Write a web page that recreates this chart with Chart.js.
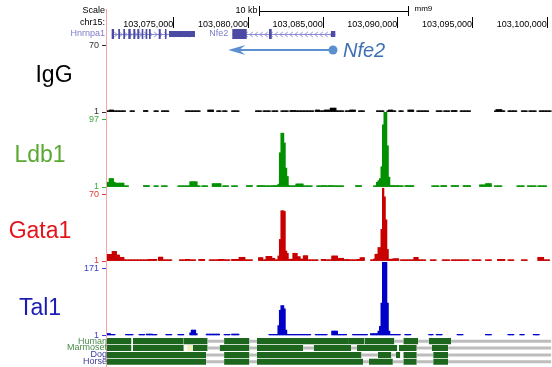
<!DOCTYPE html>
<html>
<head>
<meta charset="utf-8">
<script src="https://cdn.jsdelivr.net/npm/chart.js@4.4.1/dist/chart.umd.min.js"></script>
<style>
  html, body { margin: 0; padding: 0; background: #fff; }
  #wrap { position: relative; width: 552px; height: 367px; }
</style>
</head>
<body>
<div id="wrap"><canvas id="c" width="552" height="367"></canvas></div>
<script>
// view window on chr15 (mm9)
const viewStart = 103070494;
const viewEnd = 103100355;
const binStart = 103070500;
const binSize = 100;
const binCount = 298;
const posTicks = [103075000, 103080000, 103085000, 103090000, 103095000, 103100000];
const scaleBar = [103080737, 103090737];

const trackNames = ['IgG', 'Ldb1', 'Gata1', 'Tal1'];
const trackTop = [70, 97, 70, 171];

// signal tracks: [first bin, last bin, value]
const iggSegs = [[0,12,1.5],[2,4,3],[16,18,1.5],[25,27,2.5],[32,34,1.5],[37,41,1.5],[53,62,1.5],[68,71,3],[74,76,1.5],[78,80,1.5],[84,88,2],[100,103,1.5],[105,109,1.5],[111,114,1.5],[117,121,1.5],[123,126,2.5],[127,132,1.5],[133,138,1.5],[140,142,3],[143,145,1.5],[146,149,3],[150,153,5],[154,158,1.5],[160,162,1.5],[163,166,3],[169,172,1.5],[181,185,1.5],[188,193,1.5],[189,191,3],[196,198,1.5],[202,205,3],[208,211,1.5],[212,215,1.5],[221,224,1.5],[226,229,1.5],[231,234,2.5],[237,243,1.5],[260,266,1.5],[261,264,3.5],[269,274,1.5],[278,281,1.5],[283,287,1.5],[290,297,1.5]];
const ldb1Segs = [[0,1,7.7],[2,4,13],[5,5,8],[6,11,6.5],[12,14,1.5],[25,28,3],[32,34,1.5],[37,40,1.5],[48,55,1.5],[56,60,8.5],[61,62,1.5],[64,67,1.5],[71,76,5.8],[78,81,1.5],[84,87,1.5],[94,97,3],[101,105,3],[106,110,1.5],[111,114,3],[115,115,5],[116,116,50],[117,118,78],[119,119,64],[120,120,28],[121,121,16],[122,122,3],[123,126,1.5],[127,131,5.3],[132,137,1.5],[141,143,2],[144,146,3],[147,148,1.5],[149,151,3],[152,158,2],[167,170,3],[179,180,2],[181,181,7.7],[182,182,10],[183,183,13],[184,184,30],[185,185,90],[186,187,108],[188,188,60],[189,189,15],[190,195,3],[196,198,1.5],[200,205,3],[218,222,1.5],[224,227,3],[231,235,3],[239,243,3],[250,253,4],[254,257,5.8],[260,264,1.5],[275,279,2],[282,287,1.5],[289,294,1.5]];
const gata1Segs = [[0,3,7.9],[4,6,11],[7,8,7.2],[9,11,4.8],[12,16,1.7],[17,22,1.5],[23,25,2],[26,27,1.5],[28,33,2.7],[35,37,5],[38,43,2],[49,52,1.5],[53,55,2.7],[56,59,1.5],[62,65,2.7],[69,71,1.5],[72,74,2],[75,78,2.7],[79,82,1.5],[84,88,2.7],[89,92,4.8],[93,97,1.5],[102,104,4.5],[105,106,1.5],[107,110,5.8],[111,112,3.8],[113,114,1.5],[115,115,6.2],[116,116,23.5],[117,118,53.5],[119,119,52.8],[120,120,11.4],[121,121,9],[122,124,2.8],[125,127,9],[128,129,5.5],[130,131,3],[132,134,6.5],[135,141,2],[144,146,2.7],[147,150,1.5],[151,154,6.2],[155,158,3.8],[159,162,2.5],[163,167,1.5],[168,169,2.7],[170,172,4.5],[177,178,1.5],[179,179,3],[180,181,8],[182,183,15],[184,184,34],[185,185,77],[186,186,68],[187,187,44],[188,188,13],[189,191,2.8],[192,195,3.4],[197,202,1.5],[203,205,2],[206,208,4.8],[209,210,1.5],[211,213,2],[217,220,1.5],[225,229,2],[231,242,1.5],[245,247,1.5],[248,250,2],[254,257,2],[262,266,2.7],[269,272,1.5],[278,281,2],[289,292,4.8],[293,296,2]];
const tal1Segs = [[0,2,6],[3,5,1.5],[13,17,1.5],[22,25,1.5],[27,30,4.4],[31,33,1.5],[40,43,1.5],[48,51,1.5],[56,56,7.8],[57,59,14.5],[60,60,6],[67,75,4.4],[79,82,1.5],[84,88,4.4],[109,114,1.8],[115,115,26],[116,116,65],[117,118,77],[119,119,69],[120,120,14.5],[121,121,3.5],[122,130,3.5],[131,136,1.5],[140,143,1.5],[144,147,1.5],[151,154,12],[155,156,1.5],[157,160,3.5],[165,174,1.5],[177,181,6],[182,182,12],[183,183,24],[184,184,84],[185,187,188],[188,188,84],[189,189,12],[190,196,3.5],[200,203,3.5],[216,218,1.5],[221,224,2.7],[235,238,2.7],[254,257,2.7],[269,272,1.5],[277,279,1.5],[286,289,1.5]];

// conservation rows: aligned blocks and unalignable gaps, [first bin, last bin]
const consSpecies = ['Human', 'Marmoset', 'Dog', 'Horse'];
const humanCons = [[0,16],[18,51],[52,67],[79,95],[101,161],[162,172],[173,192],[199,208],[216,230]];
const humanGap = [[68,78],[96,100],[193,198],[209,215],[231,297]];
const marmosetCons = [[0,16],[18,51],[58,67],[76,95],[101,131],[139,163],[168,194],[196,207],[218,228]];
const marmosetGap = [[68,75],[96,100],[132,138],[164,167],[208,217],[229,297]];
const marmosetMissing = [[54,57]];
const dogCons = [[0,66],[79,95],[101,170],[182,190],[194,196],[199,207],[219,228]];
const dogGap = [[67,78],[96,100],[171,181],[191,193],[208,218],[229,297]];
const horseCons = [[0,66],[79,95],[101,171],[176,191],[199,207],[219,228]];
const horseGap = [[67,78],[96,100],[172,175],[192,198],[208,218],[229,297]];

// gene models: [start, end, coding]
const hnrnpa1Tx = [103070876, 103076452];
const hnrnpa1Exons = [[103070876,103071030,1],[103071317,103071431,1],[103071652,103071766,1],[103071987,103072148,1],[103072322,103072456,1],[103072590,103072724,1],[103072884,103072991,1],[103073152,103073259,1],[103073373,103073487,1],[103074022,103074156,1],[103074444,103074531,1],[103074712,103076452,0]];
const nfe2Tx = [103078950, 103085846];
const nfe2Exons = [[103078950,103079914,1],[103081407,103081588,1],[103085558,103085846,0]];
const nfe2Arrow = [103085692, 103078682];

const FONT = '"Liberation Sans", Arial, sans-serif';
Chart.defaults.font.family = FONT;
Chart.defaults.font.size = 9;

const signalColors = ['#000000', '#009000', '#c80000', '#0000c8'];
const labelColors = ['#000000', '#5aa832', '#e5141b', '#1c1cb4'];
const tickColors = ['#333333', '#3caa3c', '#e03c3c', '#3c3cd0'];
const axisIds = ['yIgG', 'yLdb1', 'yGata1', 'yTal1'];
const axisMax = [76.27, 108.46, 78.36, 191.45];
const axisPx = [72, 75, 74, 74.5];

function binBars(segs) {
  const v = new Array(binCount).fill(null);
  segs.forEach(([a, b, val]) => { for (let i = a; i <= b; i++) v[i] = val; });
  const pts = [];
  v.forEach((val, i) => {
    if (val !== null) pts.push({ x: binStart + (i + 0.5) * binSize, y: val });
  });
  return pts;
}

function blockPoints(segs, y) {
  const pts = [];
  segs.forEach(([a, b]) => {
    pts.push({ x: binStart + a * binSize, y: y });
    pts.push({ x: binStart + (b + 1) * binSize, y: y });
    pts.push({ x: binStart + (b + 1) * binSize, y: null });
  });
  return pts;
}

const datasets = [];
[iggSegs, ldb1Segs, gata1Segs, tal1Segs].forEach((segs, k) => {
  datasets.push({
    type: 'bar', data: binBars(segs), yAxisID: axisIds[k], base: 1,
    grouped: false, barPercentage: 1, categoryPercentage: 1,
    backgroundColor: signalColors[k], borderWidth: 0,
    minBarLength: 1.2, inflateAmount: 0.4
  });
});

const consGreen = '#1c661e';
const consBlocks = [humanCons, marmosetCons, dogCons, horseCons];
const consGaps = [humanGap, marmosetGap, dogGap, horseGap];
consBlocks.forEach((segs, r) => {
  datasets.push({
    data: blockPoints(segs, r + 0.38), yAxisID: 'yCons', fill: { value: r + 1.25 },
    borderWidth: 0, borderColor: consGreen, backgroundColor: consGreen, pointRadius: 0
  });
  datasets.push({
    data: blockPoints(consGaps[r], r + 0.82), yAxisID: 'yCons', fill: false,
    borderWidth: 3, borderColor: '#bdbdbd', pointRadius: 0
  });
});
datasets.push({
  data: blockPoints(marmosetMissing, 1.38), yAxisID: 'yCons', fill: { value: 2.25 },
  borderWidth: 0, borderColor: '#f2f0bc', backgroundColor: '#f2f0bc', pointRadius: 0
});

const scales = {
  x: {
    type: 'linear', position: 'top', min: viewStart, max: viewEnd, offset: false,
    grid: { display: false, drawTicks: false, offset: false }, border: { display: false },
    ticks: { align: 'end', padding: 10, color: '#000', font: { size: 9 },
      callback: v => v.toLocaleString('en-US') },
    afterBuildTicks: s => { s.ticks = posTicks.map(v => ({ value: v })); },
    afterFit: s => { s.height = 40; s.paddingLeft = 0; s.paddingRight = 0; }
  }
};
axisIds.forEach((id, k) => {
  scales[id] = {
    type: 'linear', position: 'left', stack: 'tracks', stackWeight: axisPx[k], weight: 10 - k,
    min: 1, max: axisMax[k],
    grid: { drawOnChartArea: false, drawTicks: true, tickLength: 4, color: tickColors[k] },
    border: { display: false },
    ticks: { color: tickColors[k], padding: 3, font: { size: 9 }, callback: v => String(v) },
    afterBuildTicks: s => { s.ticks = [{ value: 1 }, { value: trackTop[k] }]; },
    afterFit: s => { s.width = 106; s.paddingTop = 0; s.paddingBottom = 0; }
  };
});
scales.yCons = {
  type: 'linear', position: 'left', stack: 'tracks', stackWeight: 31.5, weight: 5,
  min: 0, max: 4.565, reverse: true,
  grid: { display: false }, border: { display: false }, ticks: { display: false },
  afterFit: s => { s.width = 106; s.paddingTop = 0; s.paddingBottom = 0; }
};

const decor = {
  id: 'decor',
  afterDraw(chart) {
    const { ctx, chartArea: ca, scales: sc } = chart;
    const px = v => sc.x.getPixelForValue(v);
    ctx.save();

    // header
    ctx.fillStyle = '#000';
    ctx.font = '9px ' + FONT;
    ctx.textBaseline = 'middle';
    ctx.textAlign = 'right';
    ctx.fillText('Scale', 105, 11);
    ctx.fillText('chr15:', 105, 23);
    const s0 = Math.round(px(scaleBar[0])) + 0.5, s1 = Math.round(px(scaleBar[1])) + 0.5;
    ctx.fillText('10 kb', s0 - 2, 11);
    ctx.strokeStyle = '#000';
    ctx.lineWidth = 1;
    ctx.beginPath();
    ctx.moveTo(s0, 11.5); ctx.lineTo(s1, 11.5);
    ctx.moveTo(s0, 6); ctx.lineTo(s0, 16);
    ctx.moveTo(s1, 6); ctx.lineTo(s1, 16);
    sc.x.ticks.forEach(t => {
      const p = Math.round(px(t.value)) + 0.5;
      ctx.moveTo(p, 17); ctx.lineTo(p, 28);
    });
    ctx.stroke();
    ctx.textAlign = 'left';
    ctx.font = '8px ' + FONT;
    ctx.fillText('mm9', s1 + 6, 9);

    // gene models
    const gy = 34;
    ctx.font = '9px ' + FONT;
    ctx.fillStyle = '#7b7bc9';
    ctx.textAlign = 'right';
    ctx.fillText('Hnrnpa1', 105, gy);
    ctx.fillText('Nfe2', px(nfe2Tx[0]) - 4, gy);
    [[hnrnpa1Tx, hnrnpa1Exons, 1], [nfe2Tx, nfe2Exons, -1]].forEach(([tx, exons, strand]) => {
      ctx.strokeStyle = '#8c8cd2';
      ctx.lineWidth = 1;
      ctx.beginPath();
      ctx.moveTo(px(tx[0]), gy + 0.5); ctx.lineTo(px(tx[1]), gy + 0.5);
      for (let p = px(tx[0]) + 4; p < px(tx[1]) - 3; p += 5) {
        ctx.moveTo(p + 1.5 * strand, gy + 0.5);
        ctx.lineTo(p - 1.5 * strand, gy - 2);
        ctx.moveTo(p + 1.5 * strand, gy + 0.5);
        ctx.lineTo(p - 1.5 * strand, gy + 3);
      }
      ctx.stroke();
      ctx.fillStyle = '#4b4ba6';
      exons.forEach(([a, b, cds]) => {
        const h = cds ? 5 : 3;
        const x0 = px(a), x1 = Math.max(px(b), x0 + 1.5);
        ctx.fillRect(x0, gy - h, x1 - x0, 2 * h);
      });
    });

    // pink guide line
    ctx.strokeStyle = '#f6a6a6';
    ctx.lineWidth = 1;
    ctx.beginPath();
    ctx.moveTo(ca.left + 0.5, 9); ctx.lineTo(ca.left + 0.5, 367);
    ctx.stroke();

    // Nfe2 annotation arrow
    const ay = sc.yIgG.getPixelForValue(65.8);
    const a0 = px(nfe2Arrow[0]), a1 = px(nfe2Arrow[1]);
    ctx.strokeStyle = '#5b8fd0';
    ctx.fillStyle = '#5b8fd0';
    ctx.lineWidth = 2;
    ctx.beginPath();
    ctx.moveTo(a0, ay); ctx.lineTo(a1 + 8, ay);
    ctx.stroke();
    ctx.beginPath();
    ctx.moveTo(a1, ay);
    ctx.lineTo(a1 + 17, ay - 5);
    ctx.lineTo(a1 + 11, ay);
    ctx.lineTo(a1 + 17, ay + 5);
    ctx.closePath();
    ctx.fill();
    ctx.beginPath();
    ctx.arc(a0, ay, 4.5, 0, Math.PI * 2);
    ctx.fill();
    ctx.fillStyle = '#3f70b4';
    ctx.font = 'italic 20px ' + FONT;
    ctx.textAlign = 'left';
    ctx.textBaseline = 'middle';
    ctx.fillText('Nfe2', a0 + 10, ay + 1);

    // big track labels
    const labelPos = [[54, 82], [40, 161.5], [40, 238], [40, 315]];
    ctx.font = '23px ' + FONT;
    ctx.textAlign = 'center';
    ctx.textBaseline = 'alphabetic';
    trackNames.forEach((n, k) => {
      ctx.fillStyle = labelColors[k];
      ctx.fillText(n, labelPos[k][0], labelPos[k][1]);
    });

    // species labels
    ctx.font = '9px ' + FONT;
    ctx.textAlign = 'right';
    ctx.textBaseline = 'middle';
    const spColors = ['#4a8c4a', '#4a8c4a', '#3c3c9a', '#3c3c9a'];
    consSpecies.forEach((n, r) => {
      ctx.fillStyle = spColors[r];
      ctx.fillText(n, 107, sc.yCons.getPixelForValue(r + 0.8));
    });
    ctx.restore();
  }
};

new Chart(document.getElementById('c'), {
  type: 'line',
  data: { datasets },
  options: {
    responsive: false,
    animation: false,
    devicePixelRatio: 1,
    layout: { padding: 0 },
    plugins: { legend: { display: false }, tooltip: { enabled: false } },
    scales
  },
  plugins: [decor]
});
</script>
</body>
</html>
